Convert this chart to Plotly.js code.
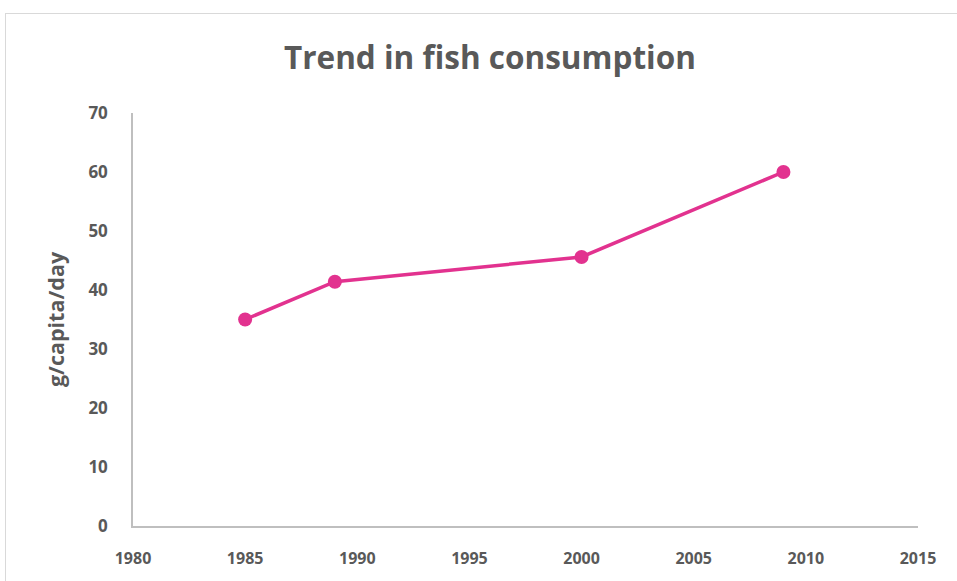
<!DOCTYPE html>
<html>
<head>
<meta charset="utf-8">
<script src="https://cdn.plot.ly/plotly-3.0.1.min.js"></script>
<style>
body{margin:0;padding:0;background:#fff;}
#wrap{position:relative;width:957px;height:581px;}
#chart{width:957px;height:581px;}
#frame{position:absolute;left:5px;top:13px;width:960px;height:580px;border-left:1px solid #d9d9d9;border-top:1px solid #d9d9d9;pointer-events:none;}
</style>
</head>
<body>
<div id="wrap"><div id="chart"></div><div id="frame"></div></div>
<script>
const years = [1985, 1989, 2000, 2009];
const consumption = [35, 41.4, 45.6, 60];
const chartTitle = 'Trend in fish consumption';
const yTitle = 'g/capita/day';

const fontFam = '"Open Sans", "Lato", sans-serif';
const trace = {
  x: years, y: consumption, type: 'scatter', mode: 'lines+markers',
  line: {color: '#e2328f', width: 3.5},
  marker: {color: '#e2328f', size: 14},
  hoverinfo: 'x+y'
};
const layout = {
  width: 957, height: 581,
  margin: {l: 133, r: 39, t: 113, b: 55},
  paper_bgcolor: '#fff', plot_bgcolor: '#fff',
  showlegend: false,
  title: {text: chartTitle, x: 0.512, xref: 'container', xanchor: 'center', y: 0.9, yref: 'container', yanchor: 'middle',
          font: {family: fontFam, size: 31.5, color: '#595959', weight: 700}},
  xaxis: {range: [1980, 2015], dtick: 5, tick0: 1980, showgrid: false, zeroline: false,
          showline: true, linecolor: '#bfbfbf', linewidth: 1.5, ticks: '', ticklabelstandoff: 17,
          tickfont: {family: fontFam, size: 16, color: '#595959', weight: 700}},
  yaxis: {range: [0, 70], dtick: 10, showgrid: false, zeroline: false,
          showline: true, linecolor: '#bfbfbf', linewidth: 1.5, ticks: '', ticklabelstandoff: 20,
          tickfont: {family: fontFam, size: 17, color: '#595959', weight: 700},
          title: {text: yTitle, standoff: 18, font: {family: fontFam, size: 21.5, color: '#595959', weight: 700}}}
};
Plotly.newPlot('chart', [trace], layout, {displayModeBar: false, responsive: false});
</script>
</body>
</html>
